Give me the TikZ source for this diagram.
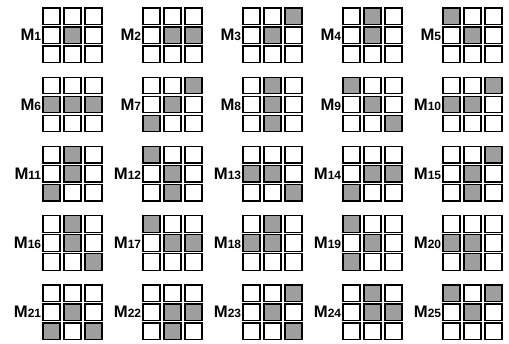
\documentclass[tikz,border=0pt]{standalone}
\usepackage{fontspec}
\newfontfamily\labelfont{Liberation Sans}
\definecolor{stipple}{RGB}{158,158,158}

\begin{document}
\begin{tikzpicture}[
    x=0.75pt, y=-0.75pt,
    cell/.style={draw=black, line width=0.9pt, minimum width=12.75pt,
                 minimum height=12.4pt, inner sep=0pt, outer sep=0pt},
    marker/.style={font=\labelfont\bfseries, anchor=east, inner sep=0pt}
]
\useasboundingbox (0,0) rectangle (509,343);
% one 3x3 grid per mask, shaded cells numbered row by row
\foreach \k/\on in {1/5, 2/{5,6}, 3/{3,5}, 4/{2,5}, 5/{1,5},
                    6/{4,5,6}, 7/{3,5,7}, 8/{2,5,8}, 9/{1,5,9}, 10/{3,4,5},
                    11/{2,5,7}, 12/{1,5,8}, 13/{4,5,9}, 14/{5,6,7}, 15/{3,5,8},
                    16/{2,5,9}, 17/{1,5,6}, 18/{2,4,5}, 19/{1,5,7}, 20/{4,5,8},
                    21/{5,7,9}, 22/{5,6,8}, 23/{3,5,9}, 24/{2,5,6}, 25/{1,3,5}}{
  \pgfmathtruncatemacro{\col}{mod(\k-1,5)}
  \pgfmathtruncatemacro{\row}{div(\k-1,5)}
  \pgfmathsetmacro{\gx}{43+100*\col}
  \pgfmathsetmacro{\gy}{8+69.25*\row}
  \foreach \cn in {1,...,9}{
    \gdef\cellfill{white}
    \foreach \s in \on {\ifnum\s=\cn\relax\gdef\cellfill{stipple}\fi}
    \pgfmathtruncatemacro{\rw}{div(\cn-1,3)}
    \pgfmathtruncatemacro{\cl}{mod(\cn-1,3)}
    \node[cell, fill=\cellfill] (m\k c\cn) at (\gx+8.5+21*\cl, \gy+8.25+19*\rw) {};
  }
  \node[marker] (lab\k) at ([xshift=-1.2pt]m\k c4.west)
    {\fontsize{12.5}{14}\selectfont M\fontsize{9}{10}\selectfont\k};
}
\end{tikzpicture}
\end{document}
